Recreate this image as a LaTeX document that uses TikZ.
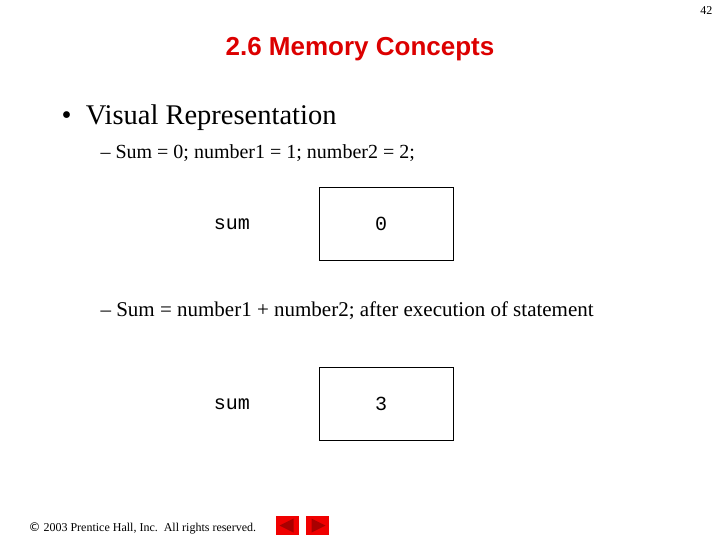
\documentclass[tikz,border=0pt]{standalone}
\usepackage{fontspec}
\usetikzlibrary{calc}
\setmainfont{Liberation Serif}
\setsansfont{Liberation Sans}
\setmonofont{Liberation Mono}
\definecolor{tred}{RGB}{220,0,0}
\definecolor{bred}{RGB}{240,0,0}
\definecolor{dred}{RGB}{170,0,0}
\begin{document}
\begin{tikzpicture}[x=1pt,y=-1pt,
  mem/.style={draw,line width=0.8pt,minimum width=134pt,minimum height=73pt,inner sep=0pt},
  mono/.style={font=\ttfamily\fontsize{20}{22}\selectfont},
  btn/.style={fill=bred,minimum width=23pt,minimum height=19pt,inner sep=0pt}]
\useasboundingbox (0,0) rectangle (720,540);
\node[anchor=north east,font=\fontsize{12}{14}\selectfont] (pg) at (716,3) {42};
\node[font=\sffamily\bfseries\fontsize{26}{28}\selectfont,text=tred] (title) at (360,49) {2.6 Memory Concepts};
\node[anchor=west,font=\fontsize{28.5}{30}\selectfont] (b1) at (58,118) {\textbullet\ \ Visual Representation};
\node[anchor=west,font=\fontsize{20}{22}\selectfont] (s1) at (97,153) {–\ Sum = 0; number1 = 1; number2 = 2;};
\node[mono] (n1) at (232,224) {sum};
\node[mem] (m1) at (386,223.5) {};
\node[mono] at ($(m1)+(-5,0)$) {0};
\node[anchor=west,font=\fontsize{21}{23}\selectfont] (s2) at (97,311) {–\ Sum = number1 + number2; after execution of statement};
\node[mono] (n2) at (232,404) {sum};
\node[mem] (m2) at (386,403.5) {};
\node[mono] at ($(m2)+(-5,0)$) {3};
\node[anchor=west,font=\fontsize{12}{14}\selectfont] (ft) at (25,528) {\fontspec{DejaVu Sans}\char"00A9\normalfont\ 2003 Prentice Hall, Inc.\ \ All rights reserved.};
\node[btn] (l) at (287.5,525.5) {};
\node[btn] (r) at (317.5,525.5) {};
\fill[dred] ($(l.center)+(-8,0)$) -- ++(14,-7) -- ++(0,14) -- cycle;
\fill[dred] ($(r.center)+(8,0)$) -- ++(-14,-7) -- ++(0,14) -- cycle;
\end{tikzpicture}
\end{document}
